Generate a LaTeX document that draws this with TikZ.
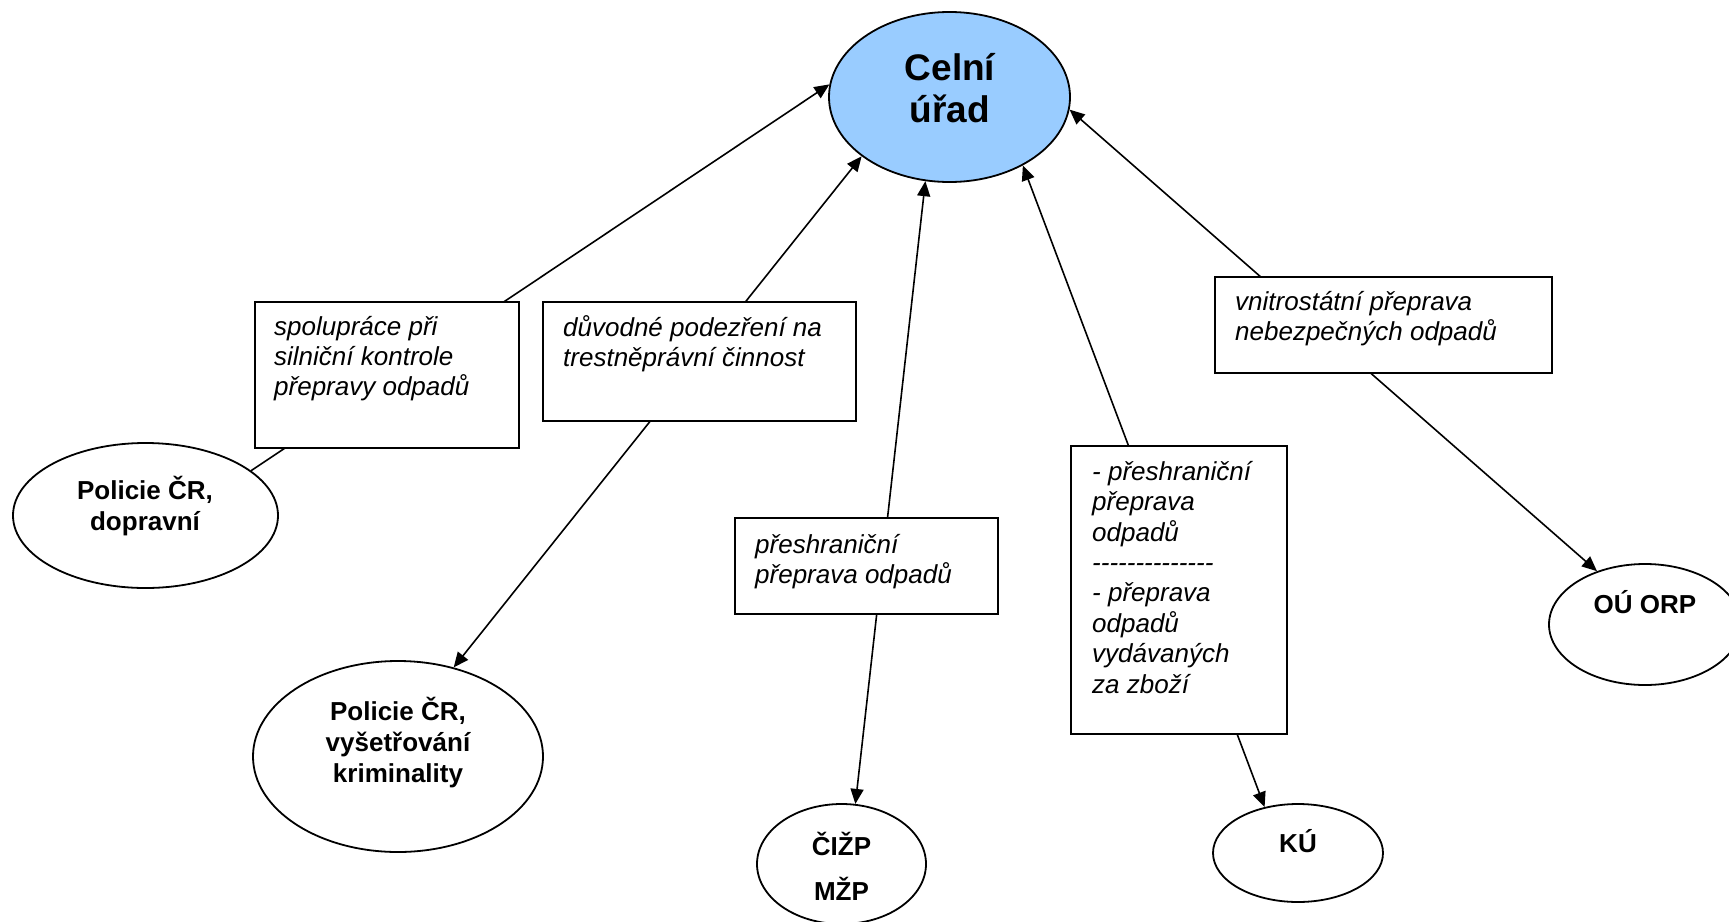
\documentclass[tikz,border=0pt]{standalone}
\usepackage{fontspec}
\newfontfamily\arial{Liberation Sans}
\usetikzlibrary{shapes.geometric,arrows.meta}
\definecolor{celblue}{HTML}{99CCFF}
\tikzset{
  oval/.style={ellipse, draw, line width=1.8pt, inner sep=0pt},
  notebox/.style={rectangle, draw, line width=1.8pt, fill=white, anchor=north west, inner sep=0pt},
  notetext/.style={anchor=base west, align=left, inner sep=0pt, font=\arial\itshape\fontsize{26}{30}\selectfont},
  ovaltext/.style={anchor=base, align=center, inner sep=0pt, font=\arial\bfseries\fontsize{26}{31}\selectfont},
  tip/.tip={Triangle[length=15pt,width=13pt]},
  link/.style={line width=1.6pt, -tip},
  link2/.style={line width=1.6pt, tip-tip},
}
\newcommand{\dashrow}{-\kern0pt-\kern0pt-\kern0pt-\kern0pt-\kern0pt-\kern0pt-\kern0pt-\kern0pt-\kern0pt-\kern0pt-\kern0pt-\kern0pt-\kern0pt-}
\begin{document}
\begin{tikzpicture}[x=1pt,y=-1pt]
\useasboundingbox (0,0) rectangle (1729,921);

% ellipses
\node[oval, fill=celblue, minimum width=241pt, minimum height=170pt] (cu) at (949.5,97) {};
\node[oval, minimum width=265pt, minimum height=145pt] (pd) at (145.5,515.5) {};
\node[oval, minimum width=290pt, minimum height=191pt] (pv) at (398,756.5) {};
\node[oval, minimum width=169pt, minimum height=120pt] (cz) at (841.5,864) {};
\node[oval, minimum width=170pt, minimum height=98pt] (ku) at (1298,853) {};
\node[oval, minimum width=192pt, minimum height=121pt] (ou) at (1645,624.5) {};

% ellipse texts (anchor = baseline of the last line)
\node[ovaltext, font=\arial\bfseries\fontsize{37}{42}\selectfont] (cut) at (950,122) {Celní\\úřad};
\node[ovaltext] (pdt) at (145,530) {Policie ČR,\\dopravní};
\node[ovaltext] (pvt) at (398,782) {Policie ČR,\\vyšetřování\\kriminality};
\node[ovaltext] (czt) at (841.5,900) {ČIŽP\\[14pt]MŽP};
\node[ovaltext] (kut) at (1298,852) {KÚ};
\node[ovaltext] (out) at (1645,613) {OÚ ORP};

% connectors
\draw[link]  (pd.23)  -- (cu.174);
\draw[link2] (pv.58)  -- (cu.214);
\draw[link2] (cz.77)  -- (cu.254);
\draw[link2] (ku.126) -- (cu.317);
\draw[link2] (ou.132) -- (cu.354);

% label boxes
\node[notebox, minimum width=264pt, minimum height=146pt] (b1) at (254,301) {};
\node[notebox, minimum width=313pt, minimum height=119pt] (b2) at (542,301) {};
\node[notebox, minimum width=263pt, minimum height=96pt]  (b3) at (734,517) {};
\node[notebox, minimum width=216pt, minimum height=288pt] (b4) at (1070,445) {};
\node[notebox, minimum width=337pt, minimum height=96pt]  (b5) at (1214,276) {};

\node[notetext] (t1) at (274,395) {spolupráce při\\silniční kontrole\\přepravy odpadů};
\node[notetext] (t2) at (563,366) {důvodné podezření na\\trestněprávní činnost};
\node[notetext] (t3) at (755,583) {přeshraniční\\přeprava odpadů};
\node[notetext, font=\arial\itshape\fontsize{26}{30.4}\selectfont] (t4) at (1092,693) {- přeshraniční\\přeprava\\odpadů\\\dashrow\\- přeprava\\odpadů\\vydávaných\\za zboží};
\node[notetext] (t5) at (1235,340) {vnitrostátní přeprava\\nebezpečných odpadů};
\end{tikzpicture}
\end{document}
